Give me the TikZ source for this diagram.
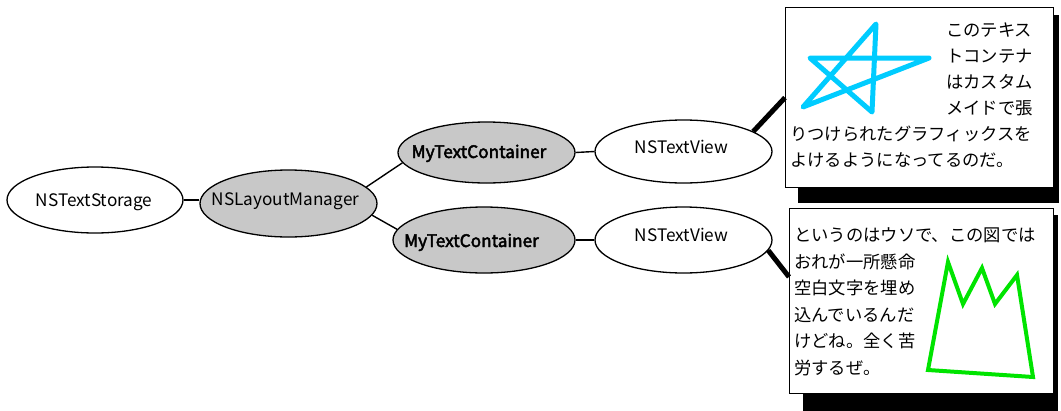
\documentclass[tikz,border=0pt]{standalone}
\usepackage{fontspec}
\setmainfont{Noto Sans CJK JP}
\newfontfamily\heavylabel[FakeBold=2.6]{Noto Sans CJK JP}
\usetikzlibrary{shapes.geometric,calc,backgrounds}
\definecolor{nodegray}{HTML}{C8C8C8}
\definecolor{starcyan}{HTML}{00CCFF}
\definecolor{crowngreen}{HTML}{00E400}

\begin{document}
\begin{tikzpicture}[x=1pt,y=-1pt,
  oval/.style={ellipse, draw=black, line width=1.3pt, fill=white, inner sep=0pt},
  shaded/.style={oval, fill=nodegray},
  lbl/.style={inner sep=0pt, anchor=base, font=\fontsize{17.2}{20}\selectfont},
  boldlbl/.style={lbl, font=\fontsize{17.2}{20}\selectfont\heavylabel},
  link/.style={line width=1.4pt},
  heavy/.style={line width=5pt},
  panel/.style={draw=black, line width=1.3pt, fill=white, inner sep=0pt, anchor=north west},
  dropshadow/.style={fill=black},
  jp/.style={inner sep=0pt, anchor=base west, font=\fontsize{17.3}{20}\selectfont},
]
\useasboundingbox (0,0) rectangle (1061,410);

% ---- class ellipses ----
\node[oval,   minimum width=176pt, minimum height=66pt] (storage) at (95,200)     {};
\node[shaded, minimum width=177pt, minimum height=67pt] (layout)  at (288.5,203.5) {};
\node[shaded, minimum width=177pt, minimum height=61pt] (mtcTop)  at (486.5,152.5) {};
\node[oval,   minimum width=177pt, minimum height=63pt] (tvTop)   at (683.5,151.5) {};
\node[shaded, minimum width=182pt, minimum height=66pt] (mtcBot)  at (484,240)     {};
\node[oval,   minimum width=177pt, minimum height=66pt] (tvBot)   at (683.5,240)   {};

\node[lbl]     (storageText) at (94,206)    {NSTextStorage};
\node[lbl]     (layoutText)  at (285.5,205) {NSLayoutManager};
\node[boldlbl] (mtcTopText)  at (479,158)   {MyTextContainer};
\node[lbl]     (tvTopText)   at (681.5,153) {NSTextView};
\node[boldlbl] (mtcBotText)  at (471.5,247) {MyTextContainer};
\node[lbl]     (tvBotText)   at (681.5,241) {NSTextView};

% ---- thin links ----
\draw[link] (storage.east) -- (storage.east -| layout.west);
\draw[link] (layout.12) -- (mtcTop.187);
\draw[link] (layout.-8) -- (mtcBot.173);
\draw[link] (mtcTop.east) -- (tvTop.west);
\draw[link] (mtcBot.east) -- (tvBot.west);

% ---- text view panels ----
\node[panel, minimum width=268pt, minimum height=180pt] (boxTop) at (785,7)   {};
\node[panel, minimum width=264pt, minimum height=185pt] (boxBot) at (789,208) {};

\begin{pgfonlayer}{background}
  \fill[dropshadow] ($(boxTop.north west)+(13,8)$) rectangle ($(boxTop.south east)+(5,15)$);
  \fill[dropshadow] ($(boxBot.north west)+(14,7)$) rectangle ($(boxBot.south east)+(4,17)$);
\end{pgfonlayer}

\draw[heavy] (tvTop.16) -- (boxTop.west);
\draw[heavy] (tvBot.-7) -- ($(boxBot.north west)!0.37!(boxBot.south west)$);

% ---- graphics inside the panels ----
\draw[starcyan, line width=5pt, line join=round]
  (876,24) -- (872,112) -- (810,58) -- (929,58) -- (803,107) -- cycle;
\draw[crowngreen, line width=4pt, line join=miter]
  (928,370) -- (948,262) -- (963,304) -- (982,268) -- (995,304) -- (1017,275) -- (1033,377) -- cycle;

% ---- panel texts ----
\node[jp] (t1) at (946,36.5)  {このテキス};
\node[jp] (t2) at (946,62.5)  {トコンテナ};
\node[jp] (t3) at (946,88.5)  {はカスタム};
\node[jp] (t4) at (946,114.5) {メイドで張};
\node[jp] (t5) at (790,140.5) {りつけられたグラフィックスを};
\node[jp] (t6) at (790,166.5) {よけるようになってるのだ。};

\node[jp] (b1) at (794,241.5) {というのはウソで、この図では};
\node[jp] (b2) at (794,268)   {おれが一所懸命};
\node[jp] (b3) at (794,294.5) {空白文字を埋め};
\node[jp] (b4) at (794,321)   {込んでいるんだ};
\node[jp] (b5) at (794,347.5) {けどね。全く苦};
\node[jp] (b6) at (794,374)   {労するぜ。};
\end{tikzpicture}
\end{document}
